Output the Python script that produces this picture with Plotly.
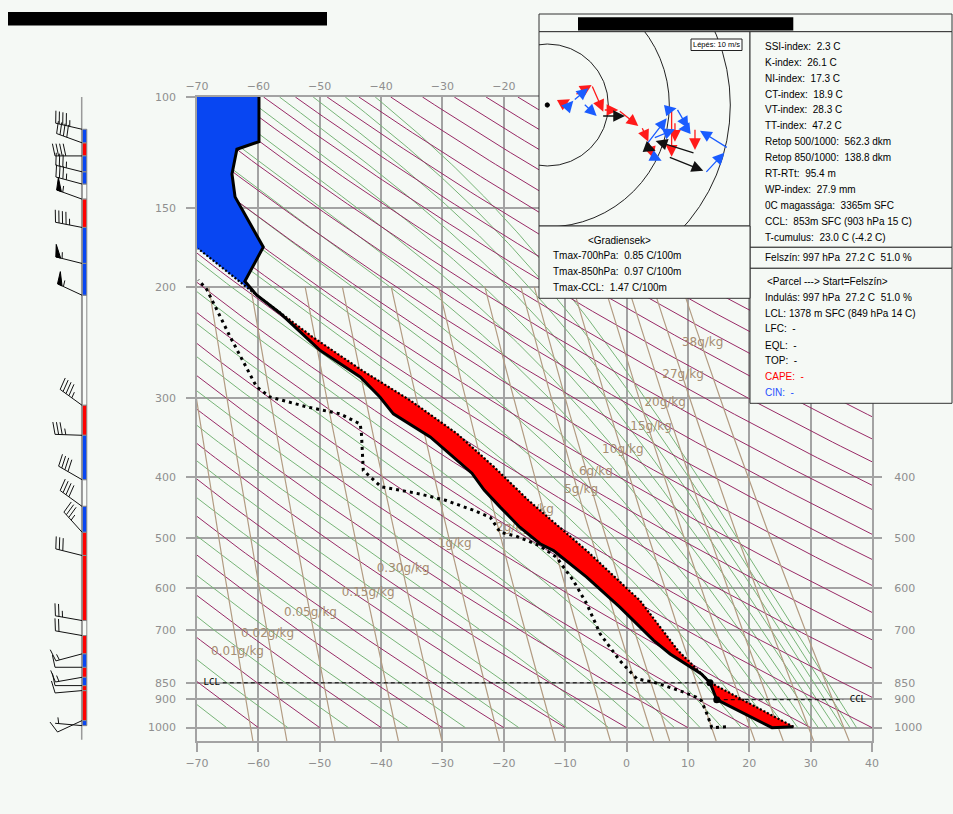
import numpy as np
import plotly.graph_objects as go

W, H = 953, 814
BG = '#f5f9f5'

# ---------------- sounding data ----------------
temp_p = [997, 1000, 903, 849, 822, 764, 727, 644, 577, 524, 511, 481, 447, 420, 395, 346, 318, 299, 278, 252, 220, 206, 196, 173, 144, 132.5, 121, 117.7, 100]
temp_t = [27.2, 23.7, 14.7, 13.6, 12.2, 7.1, 4.4, -1.1, -6.5, -11.9, -14.1, -17.4, -20.6, -23.2, -25.2, -32.0, -38.0, -40.2, -43.4, -50.0, -56.5, -60.3, -62.2, -59.2, -63.8, -64.3, -63.5, -59.9, -59.9]

dewp_p = [997, 1000, 951, 906, 895, 874, 847, 837, 783, 710, 636, 584, 537, 515, 497, 490, 464, 452, 436, 426, 415, 391, 342, 330, 318, 310, 299, 288, 240, 202, 195]
dewp_t = [16.2, 13.9, 13.1, 12.2, 11.4, 8.7, 4.4, 1.7, -1.1, -4.3, -6.5, -8.7, -11.4, -14.1, -18.0, -20.6, -22.2, -25.0, -29.5, -33.7, -40.0, -42.9, -43.2, -43.4, -46.7, -52.1, -58.1, -60.3, -64.6, -68.4, -69.8]

parcel_p = [997, 849, 755, 629, 524, 436, 386, 342, 303, 271, 240, 206, 174]
parcel_t = [27.2, 13.7, 8.4, 2.2, -6.5, -16.0, -21.6, -27.6, -35.2, -43.2, -51.2, -60.3, -69.8]

lcl_p, lcl_t = 849, 13.6
ccl_p, ccl_t = 903, 14.7

# mixing-ratio line values (g/kg) and their labels
mr_values = [0.01, 0.02, 0.05, 0.15, 0.3, 0.7, 1.5, 3, 5, 6, 10, 15, 20, 27, 38]
mr_label_text = ['0.01g/kg', '0.02g/kg', '0.05g/kg', '0.15g/kg', '0.30g/kg', '1g/kg', '2g/kg', '3g/kg',
                 '5g/kg', '6g/kg', '10g/kg', '15g/kg', '20g/kg', '27g/kg', '38g/kg']
mr_label_t = [-63.4, -58.5, -51.5, -42.1, -36.4, -28.0, -18.5, -14.6, -7.4, -5.0, -0.6, 4.0, 6.3, 9.2, 12.4]
mr_label_p = [759, 710, 658.5, 611, 560, 511, 483, 451, 420.5, 393, 363, 334, 306, 275.5, 245.5]

dry_theta = list(range(-70, 341, 10))          # °C at 1000 hPa
moist_theta_e = list(range(208, 440, 10))      # K

x_ticks = list(range(-70, 41, 10))
x_ticks_top = list(range(-70, -19, 10))
p_ticks = [100, 150, 200, 300, 400, 500, 600, 700, 850, 900, 1000]
p_ticks_right = [400, 500, 600, 700, 850, 900, 1000]

# wind profile: pressure (hPa), speed (kt), direction (deg)
wind_p = [112.5, 118.2, 124.0, 131.4, 137.4, 145.2, 161.0, 183.6, 206.2, 308.2, 343.9, 404.4,
          445.8, 489.8, 533.3, 676.3, 714.4, 763.9, 802.2, 832.1, 857.7, 873.5, 974.7, 992.7]
wind_spd = [45, 40, 40, 35, 35, 55, 45, 55, 55, 45, 35, 40, 40, 35, 30, 25, 20, 15, 10, 15, 10, 10, 10, 5]
wind_dir = [283, 290, 270, 284, 285, 290, 281, 284, 295, 306, 272, 300, 306, 318, 284, 280, 280, 255,
            270, 260, 270, 265, 245, 275]
# layer colours between consecutive wind levels
layer_col = ['b', 'r', 'b', 'b', 'w', 'r', 'b', 'b', 'w', 'r', 'b', 'w', 'b', 'r', 'r', 'w', 'r',
             'b', 'r', 'b', 'r', 'r', 'b']

# hodograph arrows (u, v in m/s), chains separated by None
hodo_red_u = [2.35, 3.72, None, 4.54, 7.27, 9.18, None, 9.18, 11.64, 14.92, None, 15.46, 16.56, 17.38, None,
              20.38, 20.38, None, 20.93, 20.93, None, 24.21, 24.21]
hodo_red_v = [0.16, 0.93, None, 1.64, 3.28, -1.09, None, -0.82, -0.82, -3.44, None, -3.55, -6.01, -8.74, None,
              -0.27, -8.47, None, -2.73, -6.01, None, -3.83, -7.38]
hodo_blue_u = [2.90, 4.26, 6.72, None, 5.90, 8.09, None, 16.01, 19.56, None, 19.84, 21.20, 23.11, 21.48, None,
               29.67, 25.03, None, 25.85, 29.02, None, 17.38, 18.74, None, 17.38, 20.93]
hodo_blue_v = [-0.82, 0.71, 2.73, None, 0.27, -1.80, None, -6.83, -2.19, None, -0.82, -0.55, -3.83, -3.99, None,
               -7.10, -4.21, None, -11.2, -7.81, None, -8.47, -9.13, None, -5.46, -3.99]
hodo_black_u = [8.91, 12.73, None, 16.01, 17.76, None, 24.21, 17.76, None, 19.84, 25.57]
hodo_black_v = [-1.80, -1.80, None, -6.83, -7.49, None, -7.92, -5.90, None, -8.47, -10.77]
hodo_rings = [10, 20, 30]

index_lines = ['SSI-index:  2.3 C', 'K-index:  26.1 C', 'NI-index:  17.3 C', 'CT-index:  18.9 C',
               'VT-index:  28.3 C', 'TT-index:  47.2 C', 'Retop 500/1000:  562.3 dkm',
               'Retop 850/1000:  138.8 dkm', 'RT-RTt:  95.4 m', 'WP-index:  27.9 mm',
               '0C magassága:  3365m SFC', 'CCL:  853m SFC (903 hPa 15 C)', 'T-cumulus:  23.0 C (-4.2 C)']
surface_line = 'Felszín: 997 hPa  27.2 C  51.0 %'
parcel_lines = ['<Parcel ---> Start=Felszín>', 'Indulás: 997 hPa  27.2 C  51.0 %',
                'LCL: 1378 m SFC (849 hPa 14 C)', 'LFC:  -', 'EQL:  -', 'TOP:  -', 'CAPE:  -', 'CIN:  -']
grad_lines = ['<Gradiensek>', 'Tmax-700hPa:  0.85 C/100m', 'Tmax-850hPa:  0.97 C/100m', 'Tmax-CCL:  1.47 C/100m']

# ---------------- helpers ----------------
def px(x):
    return x / W

def py(y):
    return 1 - y / H

def es(tc):
    return 6.112 * np.exp(17.67 * tc / (tc + 243.5))

Rd, CP, LV, EPS = 287.04, 1005.7, 2.501e6, 0.622

def dtdlnp(T, p):
    e = es(T - 273.15)
    rs = EPS * e / (p - e)
    return (Rd * T + LV * rs) / (CP + LV * LV * rs * EPS / (Rd * T * T))

def moist_line(t0c, lnp):
    T = t0c + 273.15
    out = [T]
    for i in range(len(lnp) - 1):
        h = lnp[i + 1] - lnp[i]
        p0, p1 = np.exp(lnp[i]), np.exp(lnp[i + 1])
        pm = np.exp(0.5 * (lnp[i] + lnp[i + 1]))
        k1 = dtdlnp(T, p0)
        k2 = dtdlnp(T + 0.5 * h * k1, pm)
        k3 = dtdlnp(T + 0.5 * h * k2, pm)
        k4 = dtdlnp(T + h * k3, p1)
        T = T + h * (k1 + 2 * k2 + 2 * k3 + k4) / 6
        out.append(T)
    return np.array(out) - 273.15

def theta_e_1000(tc):
    T = tc + 273.15
    e = es(tc)
    rs = EPS * e / (1000 - e)
    return T * np.exp(LV * rs / (CP * T))

def join(xs, ys):
    X, Y = [], []
    for a, b in zip(xs, ys):
        X += list(a) + [None]
        Y += list(b) + [None]
    return X, Y

fig = go.Figure()

# ---------------- background line families ----------------
lnp = np.linspace(np.log(1000), np.log(100), 160)
pl = np.exp(lnp)

tgrid = np.linspace(-80, 45, 2000)
thetae_grid = theta_e_1000(tgrid)
gx, gy = [], []
for the in moist_theta_e:
    t0 = float(np.interp(the, thetae_grid, tgrid))
    gx.append(moist_line(t0, lnp))
    gy.append(pl)
X, Y = join(gx, gy)
fig.add_trace(go.Scatter(x=X, y=Y, mode='lines', line=dict(color='#78b478', width=1), hoverinfo='skip'))

dx_, dy_ = [], []
for th in dry_theta:
    dx_.append((th + 273.15) * (pl / 1000) ** 0.2857 - 273.15)
    dy_.append(pl)
X, Y = join(dx_, dy_)
fig.add_trace(go.Scatter(x=X, y=Y, mode='lines', line=dict(color='#982a66', width=1), hoverinfo='skip'))

pm_ = np.exp(np.linspace(np.log(1050), np.log(200), 80))
mx, my = [], []
for w in mr_values:
    e = w * pm_ / (622 + w)
    le = np.log(e / 6.112)
    mx.append(243.5 * le / (17.67 - le))
    my.append(pm_)
X, Y = join(mx, my)
fig.add_trace(go.Scatter(x=X, y=Y, mode='lines', line=dict(color='#b29b82', width=1.2), hoverinfo='skip'))

fig.add_trace(go.Scatter(x=mr_label_t, y=mr_label_p, mode='text', text=mr_label_text,
                         textfont=dict(family='DejaVu Sans', size=12, color='#a58d72'), hoverinfo='skip'))

# ---------------- fills ----------------
i206 = temp_p.index(206)
j206 = parcel_p.index(206)
red_x = temp_t[:i206 + 1] + parcel_t[:j206 + 1][::-1]
red_y = temp_p[:i206 + 1] + parcel_p[:j206 + 1][::-1]
fig.add_trace(go.Scatter(x=red_x, y=red_y, mode='lines', fill='toself', fillcolor='#ff0000',
                         line=dict(color='#ff0000', width=0.5), hoverinfo='skip'))

blue_x = temp_t[i206:] + [-70, -70] + parcel_t[j206:][::-1]
blue_y = temp_p[i206:] + [100, parcel_p[-1]] + parcel_p[j206:][::-1]
fig.add_trace(go.Scatter(x=blue_x, y=blue_y, mode='lines', fill='toself', fillcolor='#0846f2',
                         line=dict(color='#0846f2', width=0.5), hoverinfo='skip'))

# ---------------- profile lines ----------------
fig.add_trace(go.Scatter(x=parcel_t, y=parcel_p, mode='lines',
                         line=dict(color='black', width=2.2, dash='2px,2px'), hoverinfo='skip'))
fig.add_trace(go.Scatter(x=temp_t, y=temp_p, mode='lines',
                         line=dict(color='black', width=3), hoverinfo='skip'))
fig.add_trace(go.Scatter(x=dewp_t, y=dewp_p, mode='lines',
                         line=dict(color='black', width=3, dash='3px,4px'), hoverinfo='skip'))

# LCL / CCL
fig.add_trace(go.Scatter(x=[-65.8, lcl_t], y=[lcl_p, lcl_p], mode='lines',
                         line=dict(color='black', width=1, dash='4px,3px'), hoverinfo='skip'))
fig.add_trace(go.Scatter(x=[ccl_t, 35.3], y=[ccl_p, ccl_p], mode='lines',
                         line=dict(color='black', width=1, dash='4px,3px'), hoverinfo='skip'))
fig.add_trace(go.Scatter(x=[-67.6, 37.7], y=[lcl_p, ccl_p], mode='text', text=['LCL', 'CCL'],
                         textfont=dict(family='DejaVu Sans Mono', size=9, color='black'), hoverinfo='skip'))
fig.add_trace(go.Scatter(x=[lcl_t, ccl_t], y=[lcl_p, ccl_p], mode='markers',
                         marker=dict(color='black', size=7), hoverinfo='skip'))

# invisible traces to activate secondary axes
fig.add_trace(go.Scatter(x=[0], y=[500], xaxis='x2', yaxis='y2', mode='markers',
                         marker=dict(opacity=0), hoverinfo='skip'))

# ---------------- wind column ----------------
PPD = (741 - 97) / (np.log10(1050) - 2)

def offp(p, dy):
    return p * 10 ** (-dy / PPD)

fig.add_trace(go.Scatter(x=[81.7, 81.7], y=[100, 1045], xaxis='x3', yaxis='y3', mode='lines',
                         line=dict(color='#9a9a9a', width=1.5), hoverinfo='skip'))
colmap = {'r': '#ff0000', 'b': '#0846f2', 'w': '#f8fbf8'}
for key in ['w', 'r', 'b']:
    bx, by = [], []
    for i, c in enumerate(layer_col):
        if c != key:
            continue
        p0, p1 = wind_p[i], wind_p[i + 1]
        bx += [82.3, 86.8, 86.8, 82.3, 82.3, None]
        by += [p0, p0, p1, p1, p0, None]
    fig.add_trace(go.Scatter(x=bx, y=by, xaxis='x3', yaxis='y3', mode='lines', fill='toself',
                             fillcolor=colmap[key], line=dict(color='#8a8a8a', width=1), hoverinfo='skip'))

lx, ly, fx, fy = [], [], [], []
X0, L, FL, SP = 82.0, 27.0, 12.5, 3.6
for p, spd, d in zip(wind_p, wind_spd, wind_dir):
    r = np.radians(d)
    s = np.array([np.sin(r), np.cos(r)])
    perp = np.array([s[1], -s[0]])
    a = np.radians(78)
    fd = np.cos(a) * s + np.sin(a) * perp
    base = np.array([X0, 0.0])
    tip = base + L * s
    lx += [base[0], tip[0], None]
    ly += [offp(p, base[1]), offp(p, tip[1]), None]
    n50 = spd // 50
    rem = spd - 50 * n50
    n10 = rem // 10
    n5 = 1 if rem % 10 >= 5 else 0
    pos = 0.0
    for _ in range(n50):
        A = tip - pos * s
        B = tip - (pos + 5) * s
        C = A + FL * fd
        fx += [A[0], C[0], B[0], A[0], None]
        fy += [offp(p, A[1]), offp(p, C[1]), offp(p, B[1]), offp(p, A[1]), None]
        pos += 6.5
    for _ in range(n10):
        A = tip - pos * s
        C = A + FL * fd
        lx += [A[0], C[0], None]
        ly += [offp(p, A[1]), offp(p, C[1]), None]
        pos += SP
    if n5:
        if pos == 0:
            pos = SP
        A = tip - pos * s
        C = A + 0.5 * FL * fd
        lx += [A[0], C[0], None]
        ly += [offp(p, A[1]), offp(p, C[1]), None]
fig.add_trace(go.Scatter(x=lx, y=ly, xaxis='x3', yaxis='y3', mode='lines',
                         line=dict(color='#111111', width=1), hoverinfo='skip'))
fig.add_trace(go.Scatter(x=fx, y=fy, xaxis='x3', yaxis='y3', mode='lines', fill='toself',
                         fillcolor='black', line=dict(color='black', width=1), hoverinfo='skip'))

# hodograph subplot anchor trace
fig.add_trace(go.Scatter(x=[0], y=[0], xaxis='x4', yaxis='y4', mode='markers',
                         marker=dict(opacity=0), hoverinfo='skip'))

# ---------------- axes ----------------
XD = [197 / W, 872 / W]
YD = [1 - 741 / H, 1 - 97 / H]
YR = [np.log10(1050), 2.0]
tickfont = dict(family='DejaVu Sans', size=11, color='#8f8f8f')
GRID = '#a3a3a3'

fig.update_layout(
    width=W, height=H, margin=dict(l=0, r=0, t=0, b=0),
    paper_bgcolor=BG, plot_bgcolor=BG, showlegend=False,
    xaxis=dict(domain=XD, range=[-70, 40], tickvals=x_ticks, ticks='outside', ticklen=9,
               tickcolor=GRID, tickwidth=1.5, showgrid=True, gridcolor=GRID, gridwidth=1.5,
               showline=True, linecolor=GRID, linewidth=1.5, mirror=True, zeroline=False,
               tickfont=tickfont, anchor='y', automargin=False, ticklabelstandoff=2),
    yaxis=dict(domain=YD, type='log', range=YR, tickvals=p_ticks, ticktext=[str(v) for v in p_ticks],
               ticks='outside', ticklen=9, tickcolor=GRID, tickwidth=1.5, showgrid=True,
               gridcolor=GRID, gridwidth=1.5, showline=True, linecolor=GRID, linewidth=1.5,
               mirror=True, zeroline=False, tickfont=tickfont, anchor='x', automargin=False,
               ticklabelstandoff=8),
    xaxis2=dict(overlaying='x', side='top', range=[-70, 40], tickvals=x_ticks_top, ticks='',
                showgrid=False, showline=False, zeroline=False, tickfont=tickfont, anchor='y2',
                automargin=False, ticklabelstandoff=4),
    yaxis2=dict(overlaying='y', side='right', type='log', range=YR, tickvals=p_ticks_right,
                ticktext=[str(v) for v in p_ticks_right], ticks='outside', ticklen=9, tickcolor=GRID,
                tickwidth=1.5, showgrid=False, showline=False, zeroline=False, tickfont=tickfont,
                anchor='x2', automargin=False, ticklabelstandoff=10),
    xaxis3=dict(domain=[0, 197 / W], range=[0, 197], visible=False, anchor='y3', fixedrange=True),
    yaxis3=dict(domain=YD, type='log', range=YR, visible=False, anchor='x3', fixedrange=True),
    xaxis4=dict(domain=[539 / W, 750 / W], range=[(539 - 547.3) / 6.1, (750 - 547.3) / 6.1],
                visible=False, anchor='y4'),
    yaxis4=dict(domain=[1 - 226 / H, 1 - 31.7 / H], range=[(105 - 226) / 6.1, (105 - 31.7) / 6.1],
                visible=False, anchor='x4'),
)

# ---------------- panels ----------------
shapes = []
LC = '#333333'

def rect(x0, y0, x1, y1, fill=BG, line=LC, lw=1):
    shapes.append(dict(type='rect', xref='paper', yref='paper', x0=px(x0), x1=px(x1), y0=py(y1),
                       y1=py(y0), fillcolor=fill, line=dict(color=line, width=lw), layer='above'))

rect(8, 12, 327, 25.5, fill='black', line='black', lw=0)
rect(539, 14, 952, 31.7)
rect(539, 31.7, 750, 226)
rect(750, 31.7, 952, 247.3)
rect(750, 247.3, 952, 268.3)
rect(750, 268.3, 952, 403.3)
rect(539, 226, 750, 298.3)
rect(578, 17.3, 793.3, 30.5, fill='black', line='black', lw=0)

for rr in hodo_rings:
    shapes.append(dict(type='circle', xref='x4', yref='y4', x0=-rr, x1=rr, y0=-rr, y1=rr,
                       line=dict(color='#222222', width=1), layer='above'))
shapes.append(dict(type='circle', xref='x4', yref='y4', x0=-0.35, x1=0.35, y0=-0.35, y1=0.35,
                   fillcolor='black', line=dict(color='black', width=1), layer='above'))
rect(691, 39, 742, 50.5, fill='#ffffff', line='#222222', lw=1)
fig.update_layout(shapes=shapes)

ann = []

def text(x, y, s, color='black', size=10, anchor='left'):
    ann.append(dict(x=px(x), y=py(y), xref='paper', yref='paper', text=s, showarrow=False,
                    xanchor=anchor, yanchor='middle', borderpad=0, borderwidth=0,
                    font=dict(family='Liberation Sans', size=size, color=color)))

idx_y = [46.7, 62.3, 78.3, 94, 109.8, 125.8, 141.7, 157.5, 173.3, 189.3, 205.2, 221, 237.3]
for yy, s in zip(idx_y, index_lines):
    text(765, yy, s.replace('  ', '\u00a0 '))
text(765, 257.8, surface_line.replace('  ', '\u00a0 '))
par_y = [281.7, 297.7, 313.3, 329, 345, 360.7, 376.7, 392.7]
for k, (yy, s) in enumerate(zip(par_y, parcel_lines)):
    col = 'red' if s.startswith('CAPE') else ('#1f4fff' if s.startswith('CIN') else 'black')
    text(767 if k == 0 else 765, yy, s.replace('  ', '\u00a0 '), color=col)
grad_y = [240, 256, 271.7, 287.7]
for k, (yy, s) in enumerate(zip(grad_y, grad_lines)):
    text(588 if k == 0 else 553, yy, s.replace('  ', '\u00a0 '))
text(716.5, 44.8, 'Lépés: 10 m/s', size=7.5, anchor='center')

# hodograph arrows
def arrows(us, vs, color):
    prev = None
    for u, v in zip(us, vs):
        if u is None:
            prev = None
            continue
        if prev is not None:
            ann.append(dict(x=u, y=v, ax=prev[0], ay=prev[1], xref='x4', yref='y4', axref='x4',
                            ayref='y4', text='', showarrow=True, arrowhead=2, arrowsize=1.8,
                            arrowwidth=1.3, arrowcolor=color, standoff=0))
        prev = (u, v)

arrows(hodo_red_u, hodo_red_v, '#ff1a1a')
arrows(hodo_blue_u, hodo_blue_v, '#1a5cff')
arrows(hodo_black_u, hodo_black_v, '#111111')
fig.update_layout(annotations=ann)

fig.write_html('out.html', config={'displayModeBar': False},
               post_script="document.body.style.margin='0px';")
